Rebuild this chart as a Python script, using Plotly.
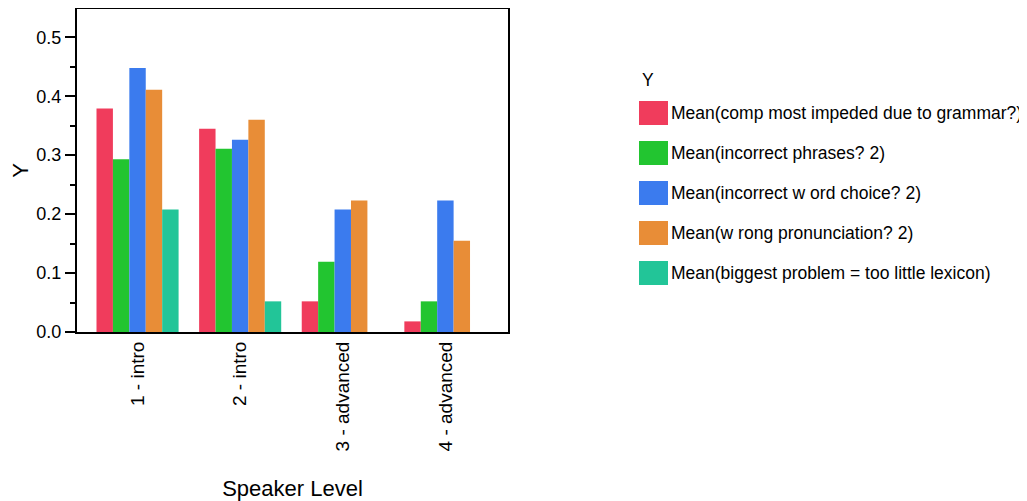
import plotly.graph_objects as go

categories = ["1 - intro", "2 - intro", "3 - advanced", "4 - advanced"]
series_names = [
    "Mean(comp most impeded due to grammar?)",
    "Mean(incorrect phrases? 2)",
    "Mean(incorrect w ord choice? 2)",
    "Mean(w rong pronunciation? 2)",
    "Mean(biggest problem = too little lexicon)",
]
grammar = [0.379, 0.345, 0.052, 0.018]
phrases = [0.293, 0.311, 0.119, 0.052]
word_choice = [0.448, 0.326, 0.208, 0.223]
pronunciation = [0.411, 0.360, 0.223, 0.155]
lexicon = [0.208, 0.052, None, None]
series_values = [grammar, phrases, word_choice, pronunciation, lexicon]
colors = ["#F03C5C", "#22C530", "#3B7BEE", "#E88D37", "#22C598"]

FONT = "Liberation Sans, Arial, sans-serif"
FS = 18
LFS = 17.5

# page offset (default body margin of the html page)
OFF = 8
W, H = 1027 - OFF, 501 - OFF
L, R, T, B = 77 - OFF, 508 - OFF, 9 - OFF, 332 - OFF  # plot area in figure px

fig = go.Figure()
for name, vals, col in zip(series_names, series_values, colors):
    fig.add_trace(go.Bar(x=categories, y=vals, name=name, marker_color=col,
                         marker_line_width=0, showlegend=False))

def px_to_paper(px, py):
    # px, py given in page pixels
    px -= OFF
    py -= OFF
    return (px - L) / (R - L), (B - py) / (B - T)

# custom legend (large swatches like the reference)
shapes = []
annotations = []
tx, ty = px_to_paper(640, 80)
annotations.append(dict(x=tx, y=ty, xref="paper", yref="paper", text="Y",
                        showarrow=False, xanchor="left", yanchor="middle",
                        font=dict(family=FONT, size=LFS, color="black")))
for i, (name, col) in enumerate(zip(series_names, colors)):
    cy = 113 + 40 * i
    x0, y0 = px_to_paper(639, cy + 12)
    x1, y1 = px_to_paper(668, cy - 12)
    shapes.append(dict(type="rect", xref="paper", yref="paper", x0=x0, y0=y0,
                       x1=x1, y1=y1, fillcolor=col, line=dict(width=0)))
    ax, ay = px_to_paper(669, cy)
    annotations.append(dict(x=ax, y=ay, xref="paper", yref="paper", text=name,
                            showarrow=False, xanchor="left", yanchor="middle",
                            font=dict(family=FONT, size=LFS, color="black")))

fig.update_layout(
    width=W, height=H,
    margin=dict(l=L, r=W - R, t=T, b=H - B, autoexpand=False),
    plot_bgcolor="white", paper_bgcolor="white",
    bargap=0.2, bargroupgap=0, barmode="group",
    font=dict(family=FONT, size=FS, color="black"),
    shapes=shapes, annotations=annotations,
    xaxis=dict(
        range=[-0.59, 3.61], tickangle=-90, showgrid=False, automargin=False,
        showline=True, linecolor="black", linewidth=2, mirror=True,
        ticks="", title=dict(text="Speaker Level", standoff=31),
        tickfont=dict(size=19),
    ),
    yaxis=dict(
        range=[0, 0.548], dtick=0.1, tick0=0, tickformat=".1f", automargin=False,
        showgrid=False, zeroline=False,
        showline=True, linecolor="black", linewidth=2, mirror=True,
        ticks="outside", ticklen=10, tickwidth=2, tickcolor="black",
        minor=dict(dtick=0.05, ticks="outside", ticklen=5, tickwidth=2, tickcolor="black"),
        title=dict(text="Y", standoff=10), tickfont=dict(size=FS),
    ),
)

fig.write_html("out.html")
